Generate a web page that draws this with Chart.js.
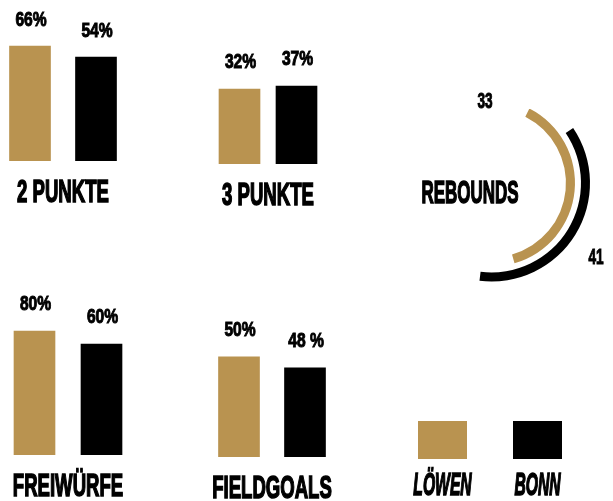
<!DOCTYPE html>
<html>
<head>
<meta charset="utf-8">
<script src="https://cdn.jsdelivr.net/npm/chart.js@4.4.1/dist/chart.umd.min.js"></script>
<style>
  body { margin: 0; width: 613px; height: 501px; overflow: hidden; background: #fff; position: relative; }
  canvas { position: absolute; }
</style>
</head>
<body>
<script>
// Teams & values
const teams = ['Löwen', 'Bonn'];
const teamColors = ['#b99350', '#000000'];

const zweiPunkte = [66, 54];
const zweiPunkteText = ['66%', '54%'];
const dreiPunkte = [32, 37];
const dreiPunkteText = ['32%', '37%'];
const freiwuerfe = [80, 60];
const freiwuerfeText = ['80%', '60%'];
const fieldgoals = [50, 48];
const fieldgoalsText = ['50%', '48 %'];
const rebounds = [33, 41];
const reboundsText = ['33', '41'];

const panelTitles = ['2 PUNKTE', '3 PUNKTE', 'FREIWÜRFE', 'FIELDGOALS', 'REBOUNDS'];

const FONT = '"Liberation Sans", Arial, sans-serif';

function makeCanvas(left, top, w, h) {
    const c = document.createElement('canvas');
    c.width = w;
    c.height = h;
    c.style.left = left + 'px';
    c.style.top = top + 'px';
    c.style.width = w + 'px';
    c.style.height = h + 'px';
    document.body.appendChild(c);
    return c;
}

// narrow display lettering: bold text squeezed horizontally, with a thin stroke to fatten it
function drawCondensed(ctx, text, x, y, font, sx, stroke) {
    ctx.save();
    ctx.font = font;
    ctx.textAlign = 'center';
    ctx.textBaseline = 'alphabetic';
    ctx.fillStyle = '#000';
    ctx.strokeStyle = '#000';
    ctx.lineJoin = 'miter';
    ctx.lineWidth = stroke || 0;
    ctx.translate(x, y);
    ctx.scale(sx, 1);
    ctx.fillText(text, 0, 0);
    if (stroke) ctx.strokeText(text, 0, 0);
    ctx.restore();
}

// box = [left, top, width, plot height]
function barPanel(box, values, texts, title, yMin, yMax) {
    const [left, top, width, plotH] = box;
    const canvas = makeCanvas(left, top, width, plotH + 48);
    return new Chart(canvas, {
        type: 'bar',
        data: {
            labels: teams,
            datasets: [{
                data: values,
                backgroundColor: teamColors,
                barThickness: 41,
                base: yMin
            }]
        },
        options: {
            responsive: false,
            animation: false,
            layout: { padding: { bottom: 48 } },
            scales: {
                x: { display: false },
                y: { display: false, min: yMin, max: yMax }
            },
            plugins: { legend: { display: false }, tooltip: { enabled: false } }
        },
        plugins: [{
            id: 'panelText',
            afterDatasetsDraw(chart) {
                const ctx = chart.ctx;
                const area = chart.chartArea;
                chart.getDatasetMeta(0).data.forEach((bar, i) => {
                    drawCondensed(ctx, texts[i], bar.x + 1, bar.y - 20.5, 'bold 20px ' + FONT, 0.78, 1);
                });
                drawCondensed(ctx, title, (area.left + area.right) / 2, area.bottom + 40.5, 'bold 32px ' + FONT, 0.58, 1.6);
            }
        }]
    });
}

barPanel([-3, 0, 132, 161], zweiPunkte, zweiPunkteText, panelTitles[0], -59.45, 116.2);
barPanel([211, 0, 114, 164], dreiPunkte, dreiPunkteText, panelTitles[1], -93, 180.3);
barPanel([1, 280, 134, 175], freiwuerfe, freiwuerfeText, panelTitles[2], -110.8, 158.4);
barPanel([205.5, 300, 132, 157], fieldgoals, fieldgoalsText, panelTitles[3], 31.8, 60.3);

// Rebounds arcs + legend
const rebCanvas = makeCanvas(405, 80, 208, 421);
new Chart(rebCanvas, {
    type: 'doughnut',
    data: {
        labels: ['Rebounds'],
        datasets: [
            { label: teams[1], data: [rebounds[1]], backgroundColor: teamColors[1], rotation: 56, circumference: 131, weight: 9 },
            { label: '', data: [], weight: 6 },
            { label: teams[0], data: [rebounds[0]], backgroundColor: teamColors[0], rotation: 27, circumference: 137, weight: 9 }
        ]
    },
    options: {
        responsive: false,
        animation: false,
        rotation: 27,
        circumference: 160,
        radius: 98.5,
        cutout: '75.6%',
        borderWidth: 0,
        layout: { padding: { left: 51.48, right: 0, top: 0, bottom: 204.26 } },
        plugins: { legend: { display: false }, tooltip: { enabled: false } }
    },
    plugins: [{
        id: 'reboundText',
        afterDatasetsDraw(chart) {
            const ctx = chart.ctx;
            const arc = chart.getDatasetMeta(2).data[0];
            const cx = arc.x, cy = arc.y;
            drawCondensed(ctx, panelTitles[4], cx - 21.5, cy + 19.5, 'bold 32px ' + FONT, 0.53, 1.6);
            drawCondensed(ctx, reboundsText[0], cx - 6.5, cy - 75.5, 'bold 22px ' + FONT, 0.62, 1);
            drawCondensed(ctx, reboundsText[1], cx + 104.5, cy + 80.5, 'bold 22px ' + FONT, 0.62, 1);

            // legend
            teams.forEach((t, i) => {
                const x0 = 13 + i * 95;
                ctx.fillStyle = teamColors[i];
                ctx.fillRect(x0, 341, 49, 38);
                drawCondensed(ctx, t.toUpperCase(), x0 + 24.5, 414.5, 'italic bold 32px ' + FONT, 0.49, 1.6);
            });
        }
    }]
});
</script>
</body>
</html>
